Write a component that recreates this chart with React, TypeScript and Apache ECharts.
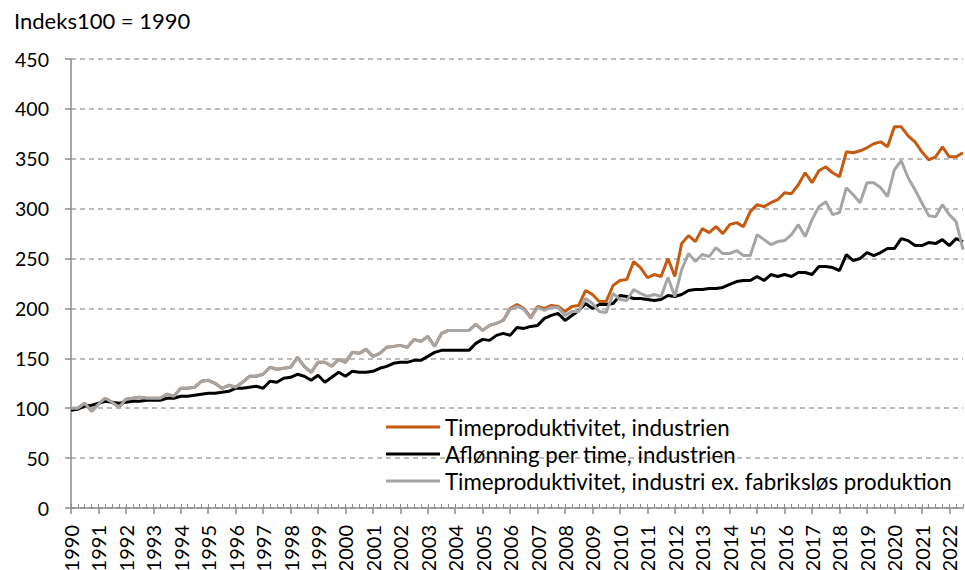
import React, { useEffect, useRef } from 'react';
import * as echarts from 'echarts';

const startYear = 1990;
const quarterCount = 131;
const categories: string[] = Array.from({ length: quarterCount }, (_, i) => `${startYear + Math.floor(i / 4)}K${(i % 4) + 1}`);

const yTicks = { min: 0, max: 450, interval: 50 };

const nameOrange = 'Timeproduktivitet, industrien';
const nameBlack = 'Aflønning per time, industrien';
const nameGray = 'Timeproduktivitet, industri ex. fabriksløs produktion';

const orangeValues = [
  100, 100, 105, 97, 104, 110, 106, 101, 109, 110,
  111, 110, 110, 110, 114, 112, 120, 120, 121, 127,
  128, 125, 120, 123, 121, 126, 132, 132, 134, 141,
  139, 140, 141, 151, 142, 136, 146, 146, 142, 149,
  146, 156, 155, 159, 152, 155, 161, 162, 163, 161,
  169, 167, 172, 162, 175, 178, 178, 178, 178, 184,
  178, 183, 185, 188, 200, 204, 200, 191, 202, 200,
  203, 202, 197, 202, 203, 218, 214, 207, 207, 223,
  228, 229, 247, 241, 231, 234, 232, 250, 232, 265,
  273, 267, 280, 276, 282, 275, 284, 286, 282, 297,
  304, 302, 306, 309, 316, 315, 324, 336, 326, 338,
  342, 336, 332, 357, 356, 358, 361, 365, 367, 362,
  382, 382, 373, 367, 357, 349, 352, 362, 352, 352,
  356,
];

const blackValues = [
  98, 99, 102, 103, 105, 107, 106, 105, 106, 107,
  107, 108, 108, 108, 110, 110, 112, 112, 113, 114,
  115, 115, 116, 117, 120, 120, 121, 122, 120, 127,
  126, 130, 131, 134, 132, 128, 133, 126, 131, 136,
  132, 137, 136, 136, 137, 140, 142, 145, 146, 146,
  148, 148, 152, 156, 158, 158, 158, 158, 158, 165,
  169, 168, 173, 175, 173, 181, 180, 182, 183, 190,
  193, 195, 188, 193, 198, 205, 200, 204, 204, 205,
  213, 212, 210, 210, 209, 208, 209, 213, 212, 214,
  218, 219, 219, 220, 220, 221, 224, 227, 228, 228,
  232, 228, 234, 232, 234, 232, 236, 236, 234, 242,
  242, 241, 238, 254, 248, 250, 256, 253, 256, 260,
  260, 270, 268, 263, 263, 266, 265, 269, 263, 270,
  267,
];

const grayValues = [
  100, 100, 105, 97, 104, 110, 106, 101, 109, 110,
  111, 110, 110, 110, 114, 112, 120, 120, 121, 127,
  128, 125, 120, 123, 121, 126, 132, 132, 134, 141,
  139, 140, 141, 151, 142, 136, 146, 146, 142, 149,
  146, 156, 155, 159, 152, 155, 161, 162, 163, 161,
  169, 167, 172, 162, 175, 178, 178, 178, 178, 184,
  178, 183, 185, 188, 199, 202, 199, 190, 201, 198,
  201, 201, 193, 197, 197, 210, 205, 197, 196, 215,
  209, 208, 219, 215, 212, 214, 212, 231, 212, 239,
  255, 247, 254, 252, 261, 255, 255, 258, 253, 253,
  274, 269, 264, 267, 268, 274, 284, 272, 289, 302,
  307, 294, 296, 321, 314, 306, 326, 326, 321, 312,
  339, 348, 331, 319, 306, 293, 292, 304, 294, 287,
  259,
];

const FONT = 'Lato, "Noto Sans", sans-serif';
const AXIS_COLOR = '#8c8c8c';

export default function App() {
  const ref = useRef<HTMLDivElement>(null);
  useEffect(() => {
    if (!ref.current) return;
    const chart = echarts.init(ref.current, undefined, { renderer: 'svg' });
    const makeLine = (name: string, data: number[], color: string) => ({
      name,
      type: 'line',
      data,
      xAxisIndex: 0,
      showSymbol: false,
      symbol: 'none',
      color,
      lineStyle: { color, width: 3 },
      itemStyle: { color },
    });
    chart.setOption({
      animation: false,
      textStyle: { fontFamily: FONT },
      title: {
        text: 'Indeks100 = 1990',
        left: 9,
        top: 4,
        textStyle: { fontFamily: FONT, fontSize: 22, fontWeight: 'normal', color: '#000' },
      },
      grid: { left: 71, right: 2, top: 59, bottom: 62, containLabel: false, outerBoundsMode: 'none' },
      legend: {
        orient: 'vertical',
        left: 381,
        top: 411,
        icon: 'rect',
        itemWidth: 54,
        itemHeight: 3,
        itemGap: 5,
        textStyle: { fontFamily: FONT, fontSize: 22.3, color: '#000', lineHeight: 22 },
        data: [nameOrange, nameBlack, nameGray],
      },
      xAxis: [
        {
          type: 'category',
          data: categories,
          boundaryGap: false,
          position: 'bottom',
          axisLine: { show: true, lineStyle: { color: AXIS_COLOR, width: 1.5 } },
          axisTick: { show: true, interval: 0, inside: true, length: 4, lineStyle: { color: AXIS_COLOR } },
          axisLabel: { show: false },
          splitLine: { show: false },
        },
        {
          type: 'category',
          data: categories,
          boundaryGap: false,
          position: 'bottom',
          axisLine: { show: false },
          axisTick: { show: true, interval: 3, length: 6, lineStyle: { color: AXIS_COLOR, width: 1.5 } },
          axisLabel: {
            interval: 3,
            rotate: 90,
            margin: 17,
            fontFamily: FONT,
            fontSize: 20,
            color: '#000',
            formatter: (v: string) => v.slice(0, 4),
          },
          splitLine: { show: false },
        },
      ],
      yAxis: {
        type: 'value',
        min: yTicks.min,
        max: yTicks.max,
        interval: yTicks.interval,
        axisLine: { show: true, lineStyle: { color: AXIS_COLOR, width: 1.5 } },
        axisTick: { show: true, length: 6, lineStyle: { color: AXIS_COLOR, width: 1.5 } },
        axisLabel: { margin: 22, fontFamily: FONT, fontSize: 19.5, color: '#000' },
        splitLine: { show: true, lineStyle: { color: '#a6a6a6', width: 1.5, type: [5, 4] } },
      },
      series: [
        makeLine(nameOrange, orangeValues, '#c55a11'),
        makeLine(nameBlack, blackValues, '#000000'),
        makeLine(nameGray, grayValues, '#a5a5a5'),
      ],
    });
    return () => chart.dispose();
  }, []);
  return <div ref={ref} style={{ position: 'absolute', left: 0, top: 0, width: 965, height: 570 }} />;
}
